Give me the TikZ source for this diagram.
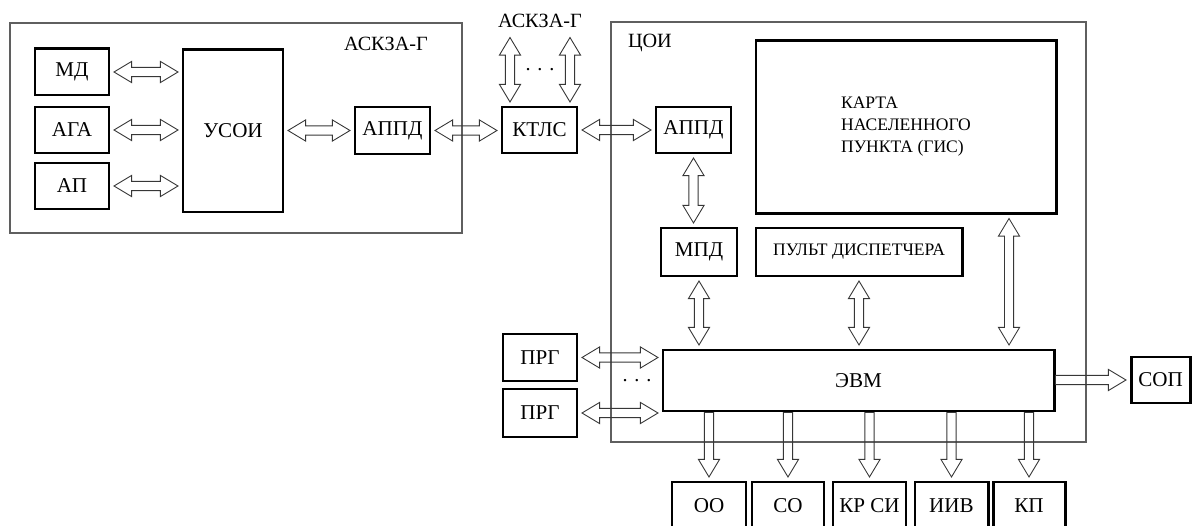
\documentclass[tikz,border=0pt]{standalone}
\usepackage{fontspec}
\setmainfont{Liberation Serif}
\usepackage{tikz}
\usetikzlibrary{calc}
\definecolor{framegray}{RGB}{95,95,95}
\definecolor{arrowgray}{RGB}{55,55,55}

% block arrow sizes
\newcommand{\arrgap}{2pt}
\newcommand{\arrhead}{10pt}
\newcommand{\arrwide}{6pt}
\newcommand{\arrshaft}{2.6pt}

\tikzset{
  blk/.style 2 args={draw, line width=1.7pt, minimum width=#1*0.02cm,
    minimum height=#2*0.02cm, inner sep=1pt, font=\fontsize{12}{14}\selectfont},
  frm/.style 2 args={draw=framegray, line width=0.6pt, minimum width=#1*0.02cm,
    minimum height=#2*0.02cm},
  lbl/.style={font=\fontsize{11.5}{13}\selectfont, inner sep=0pt},
  % hollow double arrow, left to right
  dblh/.style={draw=arrowgray, line width=0.5pt, to path={
    let \p1=(\tikztostart), \p2=(\tikztotarget) in
    (\x1+\arrgap,\y1) -- (\x1+\arrgap+\arrhead,\y1+\arrwide)
    -- (\x1+\arrgap+\arrhead,\y1+\arrshaft) -- (\x2-\arrgap-\arrhead,\y1+\arrshaft)
    -- (\x2-\arrgap-\arrhead,\y1+\arrwide) -- (\x2-\arrgap,\y1)
    -- (\x2-\arrgap-\arrhead,\y1-\arrwide) -- (\x2-\arrgap-\arrhead,\y1-\arrshaft)
    -- (\x1+\arrgap+\arrhead,\y1-\arrshaft) -- (\x1+\arrgap+\arrhead,\y1-\arrwide)
    -- cycle}},
  % hollow double arrow, top to bottom
  dblv/.style={draw=arrowgray, line width=0.5pt, to path={
    let \p1=(\tikztostart), \p2=(\tikztotarget) in
    (\x1,\y1-\arrgap) -- (\x1+\arrwide,\y1-\arrgap-\arrhead)
    -- (\x1+\arrshaft,\y1-\arrgap-\arrhead) -- (\x1+\arrshaft,\y2+\arrgap+\arrhead)
    -- (\x1+\arrwide,\y2+\arrgap+\arrhead) -- (\x1,\y2+\arrgap)
    -- (\x1-\arrwide,\y2+\arrgap+\arrhead) -- (\x1-\arrshaft,\y2+\arrgap+\arrhead)
    -- (\x1-\arrshaft,\y1-\arrgap-\arrhead) -- (\x1-\arrwide,\y1-\arrgap-\arrhead)
    -- cycle}},
  % hollow single arrow, pointing right
  sglh/.style={draw=arrowgray, line width=0.5pt, to path={
    let \p1=(\tikztostart), \p2=(\tikztotarget) in
    (\x1,\y1+\arrshaft) -- (\x2-\arrgap-\arrhead,\y1+\arrshaft)
    -- (\x2-\arrgap-\arrhead,\y1+\arrwide) -- (\x2-\arrgap,\y1)
    -- (\x2-\arrgap-\arrhead,\y1-\arrwide) -- (\x2-\arrgap-\arrhead,\y1-\arrshaft)
    -- (\x1,\y1-\arrshaft) -- cycle}},
  % hollow single arrow, pointing down
  sglv/.style={draw=arrowgray, line width=0.5pt, to path={
    let \p1=(\tikztostart), \p2=(\tikztotarget) in
    (\x1+\arrshaft,\y1) -- (\x1+\arrshaft,\y2+\arrgap+\arrhead)
    -- (\x1+\arrwide,\y2+\arrgap+\arrhead) -- (\x1,\y2+\arrgap)
    -- (\x1-\arrwide,\y2+\arrgap+\arrhead) -- (\x1-\arrshaft,\y2+\arrgap+\arrhead)
    -- (\x1-\arrshaft,\y1) -- cycle}}
}

\begin{document}
\begin{tikzpicture}[x=0.02cm, y=-0.02cm]
  \useasboundingbox (0,0) rectangle (1198,526);

  % Frames
  \node[frm={452}{210}] (ASKZA) at (236,128) {};
  \node[frm={475}{420}] (COI) at (848.5,232) {};
  \node[lbl] at (386,44) {АСКЗА-Г};
  \node[lbl] at (650,43) {ЦОИ};
  \node[lbl] (top) at (540,21) {АСКЗА-Г};

  % Sensors and USOI
  \foreach \nm/\cy/\txt in {MD/72/МД, AGA/130/АГА, AP/186/АП}{
    \node[blk={74}{46}] (\nm) at (72,\cy) {\txt};
  }
  \node[blk={100}{162}] (USOI) at (233,131) {УСОИ};
  \node[blk={75}{47}] (APPDL) at (392.5,130.5) {АППД};
  \node[blk={75}{46}] (KTLS) at (539.5,130) {КТЛС};

  % Centre
  \node[blk={75}{46}] (APPDR) at (693.5,130) {АППД};
  \node[blk={300}{173}, align=left, font=\fontsize{10}{12.5}\selectfont]
    (KARTA) at (906,127) {КАРТА\\НАСЕЛЕННОГО\\ПУНКТА (ГИС)};
  \node[blk={76}{48}] (MPD) at (699,252) {МПД};
  \node[blk={206}{48}, font=\fontsize{10}{12}\selectfont]
    (PULT) at (859,252) {ПУЛЬТ ДИСПЕТЧЕРА};
  \node[blk={391}{61}] (EVM) at (858.5,380.5) {ЭВМ};
  \node[blk={74}{47}] (PRG1) at (540,357.5) {ПРГ};
  \node[blk={74}{48}] (PRG2) at (540,413) {ПРГ};
  \node[blk={59}{46}] (SOP) at (1160.5,380) {СОП};
  \node[lbl] (dotsL) at (637,381) {.\,\,.\,\,.};
  \node[lbl] (dotsT) at (540,70) {.\,\,.\,\,.};

  % Links
  \foreach \nm in {MD, AGA, AP}{
    \draw[dblh] (\nm.east) to (USOI.west |- \nm.east);
  }
  \draw[dblh] (USOI.east |- APPDL.west) to (APPDL.west);
  \draw[dblh] (APPDL.east) to (KTLS.west);
  \draw[dblh] (KTLS.east) to (APPDR.west);
  \coordinate (tl) at (510,34);
  \coordinate (tr) at (570,34);
  \draw[dblv] (tl) to (tl |- KTLS.north);
  \draw[dblv] (tr) to (tr |- KTLS.north);
  \draw[dblv] (APPDR.south) to (APPDR.south |- MPD.north);
  \draw[dblv] (MPD.south) to (MPD.south |- EVM.north);
  \draw[dblv] (PULT.south) to (PULT.south |- EVM.north);
  \coordinate (gis) at ($(KARTA.south west)!0.84!(KARTA.south east)$);
  \draw[dblv] (gis) to (gis |- EVM.north);
  \draw[dblh] (PRG1.east) to (PRG1.east -| EVM.west);
  \draw[dblh] (PRG2.east) to (PRG2.east -| EVM.west);
  \draw[sglh] (EVM.east |- SOP.west) to (SOP.west);

  % Outputs
  \foreach \nm/\cx/\w/\txt in {OO/709/74/ОО, CO/788/72/СО, KRSI/869.5/73/КР СИ,
      IIV/951.5/73/ИИВ, KP/1029/72/КП}{
    \node[blk={\w}{48}] (\nm) at (\cx,506) {\txt};
    \draw[sglv] (EVM.south -| \nm.north) to (\nm.north);
  }
\end{tikzpicture}
\end{document}
